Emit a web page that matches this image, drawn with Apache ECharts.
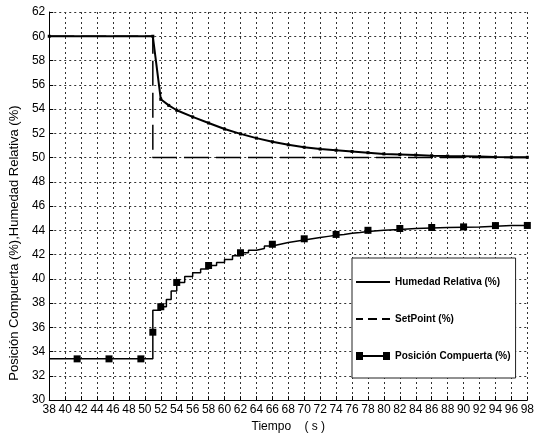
<!DOCTYPE html>
<html>
<head>
<meta charset="utf-8">
<script src="https://cdn.jsdelivr.net/npm/echarts@6/dist/echarts.min.js"></script>
<style>
  html, body { margin: 0; padding: 0; background: #fff; }
  #chart { width: 537px; height: 438px; }
</style>
</head>
<body>
<div id="chart"></div>
<script>
  // Humedad Relativa (%)
  const humTime = [38, 51, 52, 53, 54, 56, 58, 60, 62, 64, 66, 68, 70, 72, 74, 76, 78, 80, 82, 84, 86, 88, 90, 92, 94, 96, 98]
  const humValue = [60, 60, 54.8, 54.3, 53.9, 53.35, 52.85, 52.35, 51.95, 51.6, 51.3, 51.05, 50.85, 50.7, 50.6, 50.5, 50.4, 50.3, 50.25, 50.2, 50.15, 50.12, 50.1, 50.08, 50.05, 50.03, 50.02]

  // SetPoint (%)
  const spTime = [38, 51, 51, 98]
  const spValue = [60, 60, 50, 50]

  // Posicion Compuerta (%)
  const posTime = [38, 41.5, 45.5, 49.5, 51, 51, 52, 52.7, 53.3, 54, 55, 56, 57, 58, 59, 60, 61, 62, 63, 64, 65, 66, 67, 68, 69, 70, 71, 72, 73, 74, 75, 76, 77, 78, 80, 82, 84, 86, 88, 90, 92, 94, 96, 98]
  const posValue = [33.4, 33.4, 33.4, 33.4, 35.6, 37.4, 37.7, 38.3, 39.0, 39.7, 40.2, 40.5, 40.8, 41.1, 41.35, 41.6, 41.9, 42.15, 42.35, 42.5, 42.7, 42.85, 43.0, 43.1, 43.2, 43.3, 43.4, 43.5, 43.6, 43.66, 43.75, 43.82, 43.9, 44.0, 44.07, 44.15, 44.2, 44.23, 44.26, 44.28, 44.33, 44.39, 44.39, 44.4]
  const posMarkerTime = [41.5, 45.5, 49.5, 51, 52, 54, 58, 62, 66, 70, 74, 78, 82, 86, 90, 94, 98]

  const names = ['Humedad Relativa (%)', 'SetPoint (%)', 'Posición Compuerta (%)']

  const zip = (xs, ys) => xs.map((x, i) => [x, ys[i]])

  const used = new Set()
  const posData = posTime.map((t, i) => {
    if (posMarkerTime.indexOf(t) >= 0 && !used.has(t)) {
      used.add(t)
      return { value: [t, posValue[i]] }
    }
    return { value: [t, posValue[i]], symbol: 'none' }
  })

  const chart = echarts.init(document.getElementById('chart'), null, { renderer: 'canvas' })

  const font = 'Arial, "Liberation Sans", sans-serif'
  const gridLine = { show: true, lineStyle: { color: '#333', type: [2, 3], width: 1 } }

  chart.setOption({
    animation: false,
    backgroundColor: '#fff',
    grid: { left: 45, right: 5, top: 12, bottom: 31 },
    legend: {
      orient: 'vertical',
      left: 352,
      top: 258,
      padding: [19, 5, 17, 4],
      itemGap: 27,
      itemWidth: 34,
      itemHeight: 8,
      backgroundColor: '#fff',
      borderColor: '#222',
      borderWidth: 1,
      borderRadius: 0,
      selectedMode: false,
      textStyle: { fontFamily: font, fontSize: 10, fontWeight: 'bold', color: '#000' },
      data: [
        { name: names[0], icon: 'path://M0,3h34v2h-34z', itemStyle: { color: '#000', borderWidth: 0 } },
        { name: names[1], icon: 'path://M0,3h7v2h-7zM12,3h9v2h-9zM26,3h8v2h-8z', itemStyle: { color: '#000', borderWidth: 0 } },
        { name: names[2], icon: 'path://M0,0h7v8h-7zM7,3h20v2h-20zM27,0h7v8h-7z', itemStyle: { color: '#000', borderWidth: 0 } }
      ]
    },
    xAxis: {
      type: 'value',
      min: 38,
      max: 98,
      interval: 2,
      name: 'Tiempo    ( s )',
      nameLocation: 'middle',
      nameGap: 17,
      nameTextStyle: { fontFamily: font, fontSize: 12, color: '#000' },
      axisLine: { show: true, lineStyle: { color: '#000', width: 1 } },
      axisTick: { show: true, inside: true, length: 4, lineStyle: { color: '#000' } },
      axisLabel: { fontFamily: font, fontSize: 12, color: '#000', margin: 4 },
      splitLine: gridLine
    },
    yAxis: {
      type: 'value',
      min: 30,
      max: 62,
      interval: 2,
      name: 'Posición Compuerta (%),Humedad Relativa (%)',
      nameLocation: 'middle',
      nameGap: 22,
      nameTextStyle: { fontFamily: font, fontSize: 13, color: '#000', padding: [0, 74, 0, 0] },
      axisLine: { show: true, lineStyle: { color: '#000', width: 1 } },
      axisTick: { show: true, inside: true, length: 4, lineStyle: { color: '#000' } },
      axisLabel: { fontFamily: font, fontSize: 12, color: '#000', margin: 4 },
      splitLine: gridLine
    },
    series: [
      {
        name: names[0],
        type: 'line',
        data: zip(humTime, humValue),
        symbol: 'rect',
        symbolSize: 3,
        showSymbol: true,
        itemStyle: { color: '#000', borderWidth: 0 },
        lineStyle: { color: '#000', width: 2 },
        z: 3
      },
      {
        name: names[1],
        type: 'line',
        data: zip(spTime, spValue),
        symbol: 'none',
        itemStyle: { color: '#000' },
        lineStyle: { color: '#000', width: 1.5, type: [25, 7] },
        z: 2
      },
      {
        name: names[2],
        type: 'line',
        step: 'end',
        data: posData,
        symbol: 'rect',
        symbolSize: 7,
        showSymbol: true,
        itemStyle: { color: '#000', borderWidth: 0 },
        lineStyle: { color: '#000', width: 1.5 },
        z: 4
      }
    ]
  })
</script>
</body>
</html>
